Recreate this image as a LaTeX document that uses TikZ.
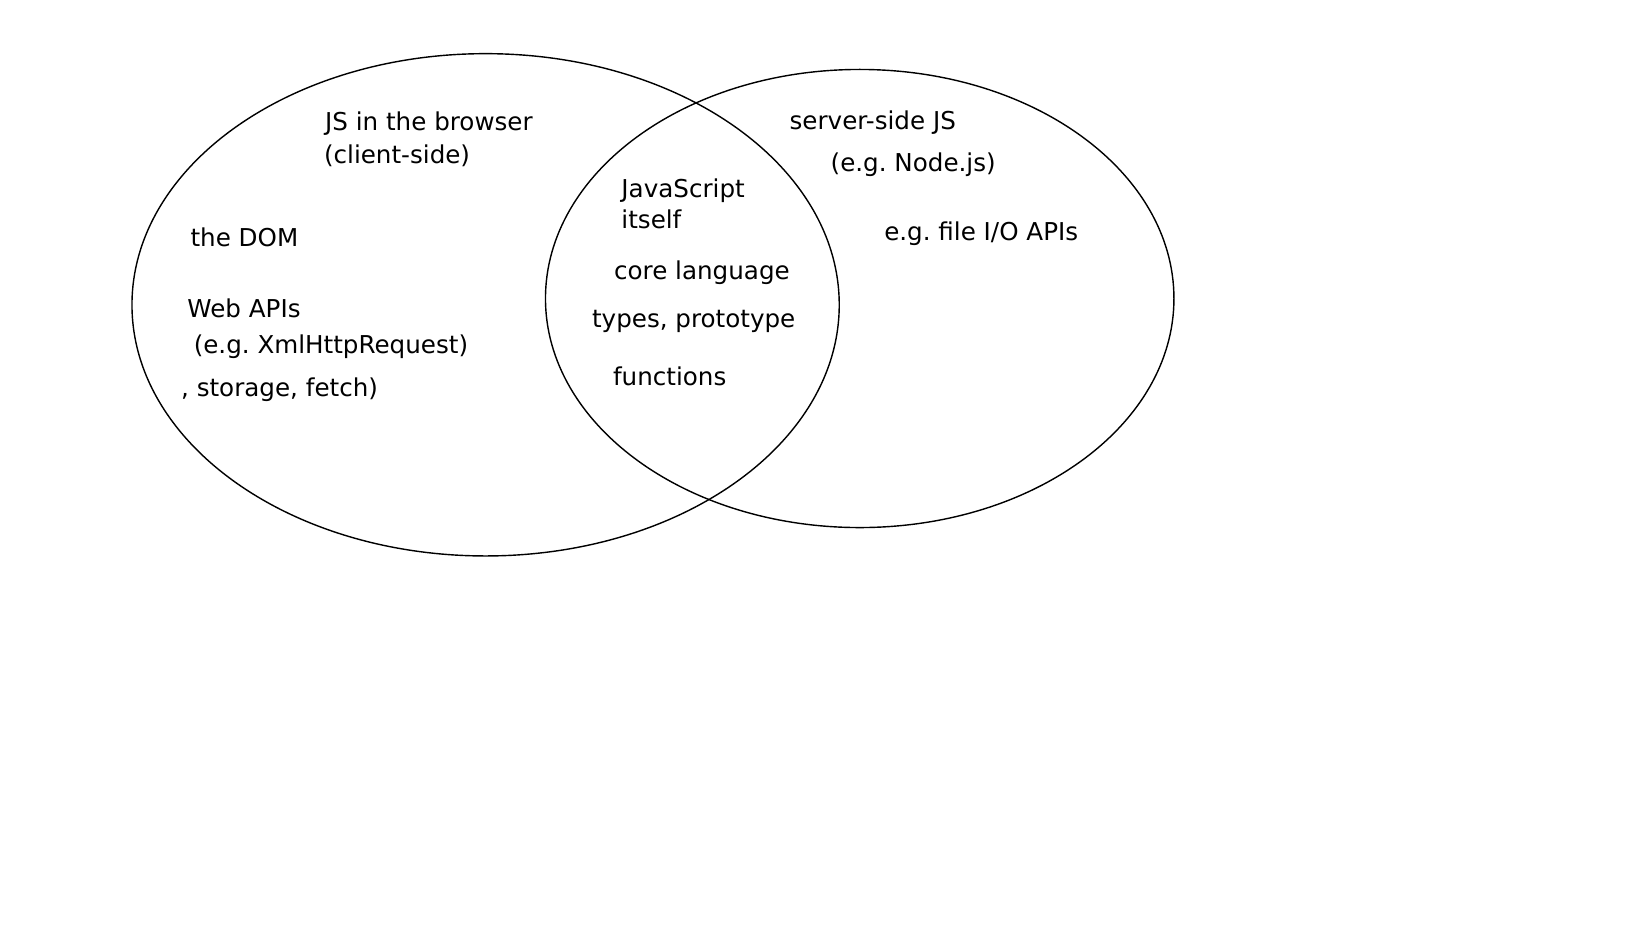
\documentclass[tikz,border=0pt]{standalone}
\usepackage{fontspec}
\setmainfont{DejaVu Sans}
\usetikzlibrary{shapes.geometric}

\begin{document}
\frenchspacing
\begin{tikzpicture}[x=0.02cm, y=-0.02cm,
            setcirc/.style={ellipse, draw=black, thick, inner sep=0pt},
            lbl/.style={anchor=west, inner sep=0pt, yshift=-1.4pt, font=\fontsize{14pt}{16pt}\selectfont}
        ]
        \useasboundingbox (0,0) rectangle (1648,927);
        % the two sets
        \node[setcirc, minimum width=14.148cm, minimum height=10.048cm] (browser) at (485.6,304.8) {};
        \node[setcirc, minimum width=12.572cm, minimum height=9.164cm] (server) at (859.7,298.5) {};
        % client side
        \node[lbl] (clienttitle) at (324.8,120.9) {JS in the browser};
        \node[lbl] (clientsub) at (323.7,153.5) {(client-side)};
        \node[lbl] (dom) at (190.2,235) {the DOM};
        \node[lbl] (webapis) at (187.1,305.8) {Web APIs};
        \node[lbl] (xhr) at (193.4,344.7) {(e.g. XmlHttpRequest)};
        \node[lbl] (storage) at (180.8,386.8) {, storage, fetch)};
        % overlap
        \node[lbl] (jstitle) at (621.1,188.1) {JavaScript};
        \node[lbl] (jssub) at (621.1,216.5) {itself};
        \node[lbl] (core) at (613.8,270.1) {core language};
        \node[lbl] (types) at (591.7,318.5) {types, prototype};
        \node[lbl] (funcs) at (612.7,374) {functions};
        % server side
        \node[lbl] (servertitle) at (789.3,119.8) {server-side JS};
        \node[lbl] (serversub) at (830.3,161.9) {(e.g. Node.js)};
        \node[lbl] (fileio) at (883.9,231.2) {e.g. file I/O APIs};
\end{tikzpicture}
\end{document}
